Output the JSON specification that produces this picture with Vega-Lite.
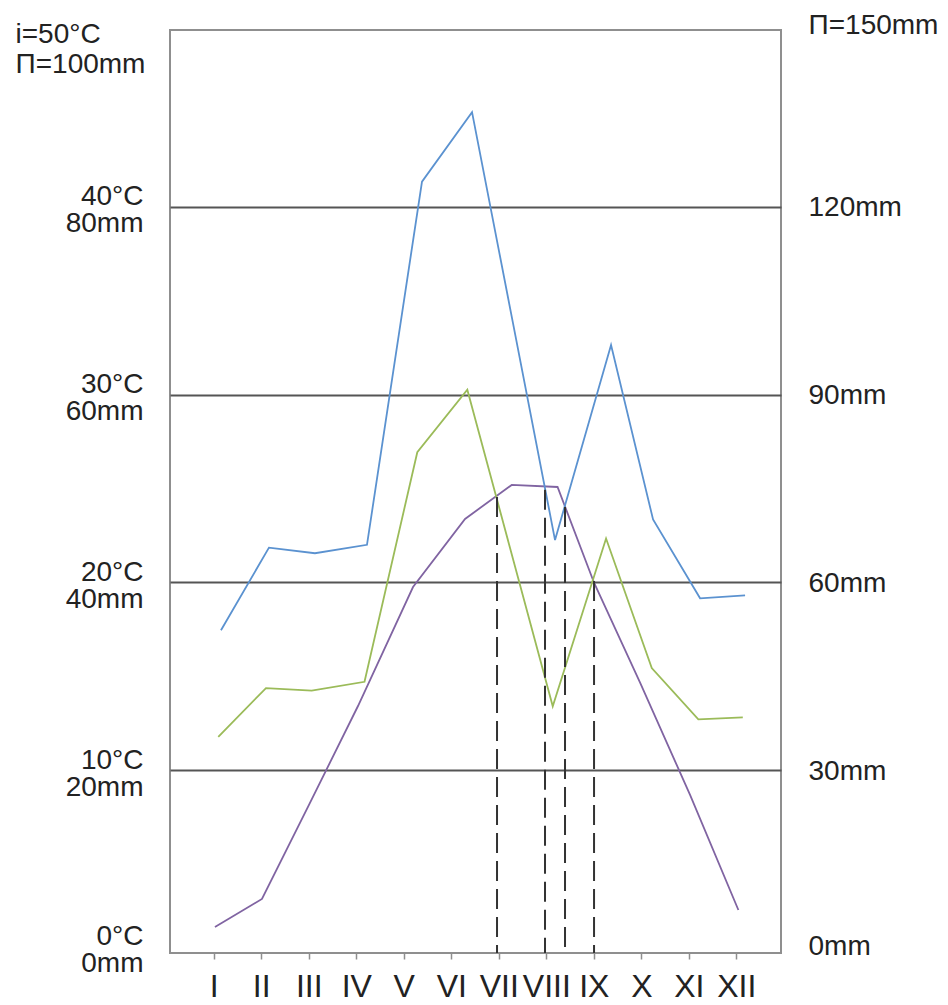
{
  "$schema": "https://vega.github.io/schema/vega-lite/v6.json",
  "width": 611,
  "height": 923,
  "autosize": {"type": "none"},
  "padding": {"left": 170, "top": 30, "right": 167, "bottom": 52},
  "background": "white",
  "config": {
    "view": {"stroke": "#8f8f8f", "strokeWidth": 2},
    "font": "Liberation Sans",
    "axis": {"labelFont": "Liberation Sans", "titleFont": "Liberation Sans", "labelColor": "#222", "titleColor": "#222", "titleFontWeight": "normal"}
  },
  "datasets": {
    "temp": [
      {"month": "I", "m": 1.026, "t": 1.64},
      {"month": "II", "m": 2.016, "t": 3.13},
      {"month": "III", "m": 3.005, "t": 8.14},
      {"month": "IV", "m": 4.037, "t": 13.41},
      {"month": "V", "m": 5.195, "t": 19.75},
      {"month": "VI", "m": 6.29, "t": 23.38},
      {"month": "VII", "m": 7.273, "t": 25.19},
      {"month": "VIII", "m": 8.237, "t": 25.08},
      {"month": "IX", "m": 9.005, "t": 19.98},
      {"month": "X", "m": 9.974, "t": 14.66},
      {"month": "XI", "m": 11.026, "t": 8.67},
      {"month": "XII", "m": 12.043, "t": 2.54}
    ],
    "precip": [
      {"series": "Π=100mm", "month": "I", "m": 1.153, "mm": 34.9},
      {"series": "Π=100mm", "month": "II", "m": 2.163, "mm": 43.7},
      {"series": "Π=100mm", "month": "III", "m": 3.131, "mm": 43.1},
      {"series": "Π=100mm", "month": "IV", "m": 4.226, "mm": 44.0},
      {"series": "Π=100mm", "month": "V", "m": 5.384, "mm": 82.7},
      {"series": "Π=100mm", "month": "VI", "m": 6.437, "mm": 90.1},
      {"series": "Π=100mm", "month": "VII", "m": 7.3, "mm": 67.6},
      {"series": "Π=100mm", "month": "VIII", "m": 8.184, "mm": 44.5},
      {"series": "Π=100mm", "month": "IX", "m": 9.363, "mm": 65.3},
      {"series": "Π=100mm", "month": "X", "m": 10.247, "mm": 46.7},
      {"series": "Π=100mm", "month": "XI", "m": 11.237, "mm": 38.3},
      {"series": "Π=100mm", "month": "XII", "m": 12.184, "mm": 38.6},
      {"series": "Π=150mm", "month": "I", "m": 1.096, "mm": 35.3},
      {"series": "Π=150mm", "month": "II", "m": 2.1, "mm": 43.1},
      {"series": "Π=150mm", "month": "III", "m": 3.062, "mm": 42.7},
      {"series": "Π=150mm", "month": "IV", "m": 4.174, "mm": 44.1},
      {"series": "Π=150mm", "month": "V", "m": 5.285, "mm": 80.8},
      {"series": "Π=150mm", "month": "VI", "m": 6.338, "mm": 90.8},
      {"series": "Π=150mm", "month": "VII", "m": 7.237, "mm": 65.5},
      {"series": "Π=150mm", "month": "VIII", "m": 8.136, "mm": 40.2},
      {"series": "Π=150mm", "month": "IX", "m": 9.258, "mm": 67.0},
      {"series": "Π=150mm", "month": "X", "m": 10.22, "mm": 46.3},
      {"series": "Π=150mm", "month": "XI", "m": 11.2, "mm": 38.1},
      {"series": "Π=150mm", "month": "XII", "m": 12.136, "mm": 38.4}
    ],
    "cuts": [
      {"m": 6.963, "top": 24.55, "base": 0},
      {"m": 7.973, "top": 24.93, "base": 0},
      {"m": 8.394, "top": 24.02, "base": 0},
      {"m": 9.005, "top": 20.07, "base": 0}
    ]
  },
  "encoding": {
    "x": {"field": "m", "type": "quantitative", "scale": {"domain": [0.08, 12.94], "nice": false, "zero": false},
      "axis": {"orient": "bottom", "title": null, "values": [1,2,3,4,5,6,7,8,9,10,11,12],
        "labelExpr": "['I','II','III','IV','V','VI','VII','VIII','IX','X','XI','XII'][datum.value-1]",
        "labelFontSize": 32, "labelPadding": 37, "tickSize": 6, "tickColor": "#8f8f8f", "tickWidth": 1.5,
        "domain": false, "grid": false, "labelBaseline": "alphabetic", "labelFlush": false, "labelOverlap": false}}
  },
  "layer": [
    {
      "data": {"name": "temp"},
      "mark": {"type": "line", "color": "#8064a2", "strokeWidth": 1.8},
      "encoding": {
        "y": {"field": "t", "type": "quantitative", "scale": {"domain": [0.25, 49.43], "nice": false, "zero": false},
          "axis": {"orient": "left", "values": [0.25, 10, 20, 30, 40],
            "labelExpr": "datum.value < 1 ? ['0°C\u2002', '0mm'] : [format(datum.value, 'd') + '°C\u2002', format(datum.value * 2, 'd') + 'mm']",
            "labelFontSize": 28, "labelLineHeight": 27, "labelAlign": "right", "labelBaseline": "middle",
            "labelPadding": 27, "ticks": false, "tickSize": 0, "domain": false, "labelFlush": false, "labelOverlap": false,
            "labelOffset": {"condition": {"test": "datum.value < 1", "value": -17}, "value": -10},
            "grid": true, "gridColor": "#555", "gridWidth": 2,
            "gridOpacity": {"condition": {"test": "datum.value < 1", "value": 0}, "value": 1},
            "title": ["i=50°C", "Π=100mm"], "titleAngle": 0, "titleAlign": "left", "titleBaseline": "alphabetic",
            "titleX": -155, "titleY": 12, "titleFontSize": 28, "titleLineHeight": 30}}
      }
    },
    {
      "data": {"name": "precip"},
      "transform": [{"filter": "datum.series === 'Π=100mm'"}],
      "mark": {"type": "line", "color": "#5b92d0", "strokeWidth": 1.8},
      "encoding": {
        "y": {"field": "mm", "type": "quantitative", "scale": {"domain": [0.5, 98.86], "nice": false, "zero": false}, "axis": null}
      }
    },
    {
      "data": {"name": "precip"},
      "transform": [{"filter": "datum.series === 'Π=150mm'"}],
      "mark": {"type": "line", "color": "#9bbb59", "strokeWidth": 1.8},
      "encoding": {
        "y": {"field": "mm", "type": "quantitative", "scale": {"domain": [0.75, 148.29], "nice": false, "zero": false},
          "axis": {"orient": "right", "values": [0.75, 30, 60, 90, 120],
            "labelExpr": "datum.value < 1 ? '0mm' : format(datum.value, 'd') + 'mm'",
            "labelFontSize": 28, "labelAlign": "left", "labelBaseline": "middle", "labelPadding": 27,
            "ticks": false, "tickSize": 0, "domain": false, "grid": false, "labelFlush": false, "labelOverlap": false,
            "labelOffset": {"condition": {"test": "datum.value < 1", "value": -7}, "value": 1},
            "title": "Π=150mm", "titleAngle": 0, "titleAlign": "left", "titleBaseline": "alphabetic",
            "titleX": 27, "titleY": 3, "titleFontSize": 28}}
      }
    },
    {
      "data": {"name": "cuts"},
      "mark": {"type": "rule", "color": "#333", "strokeWidth": 2, "strokeDash": [20, 8], "clip": true},
      "encoding": {
        "y": {"field": "top", "type": "quantitative", "scale": {"domain": [0.25, 49.43], "nice": false, "zero": false}, "axis": null},
        "y2": {"field": "base"}
      }
    }
  ],
  "resolve": {"scale": {"y": "independent"}}
}
